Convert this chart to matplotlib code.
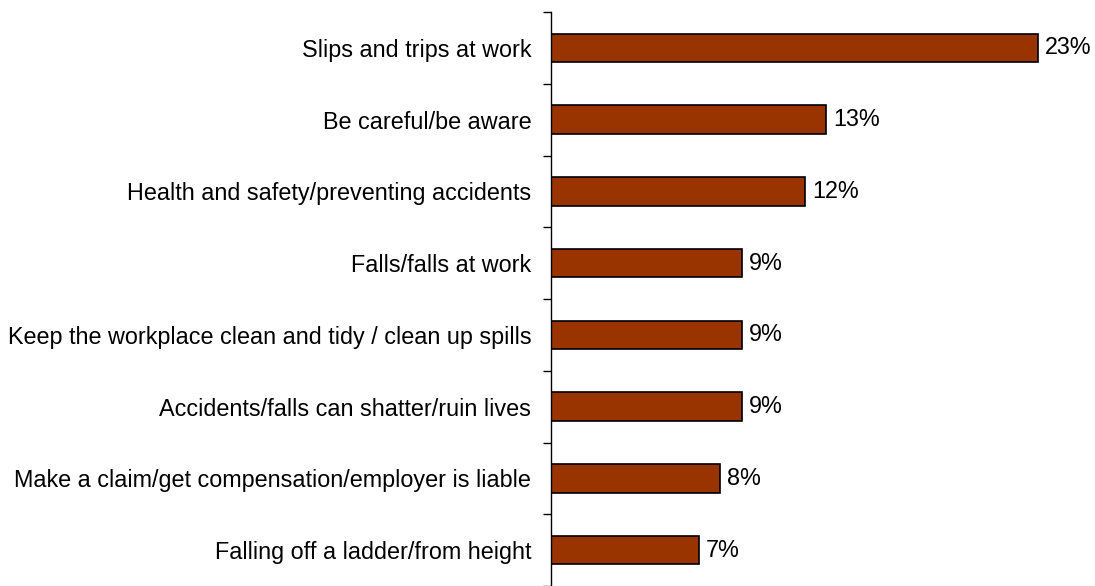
import matplotlib
matplotlib.use("Agg")
import matplotlib.pyplot as plt
import numpy as np

categories = [
    "Slips and trips at work",
    "Be careful/be aware",
    "Health and safety/preventing accidents",
    "Falls/falls at work",
    "Keep the workplace clean and tidy / clean up spills",
    "Accidents/falls can shatter/ruin lives",
    "Make a claim/get compensation/employer is liable",
    "Falling off a ladder/from height",
]
values = [23, 13, 12, 9, 9, 9, 8, 7]
value_labels = ["23%", "13%", "12%", "9%", "9%", "9%", "8%", "7%"]

plt.rcParams['font.family'] = ['Liberation Sans', 'DejaVu Sans']
FS = 16.8

fig = plt.figure(figsize=(10.95, 5.86), dpi=100)
ax = fig.add_axes([550.7/1095, 0.0, 530/1095, (586-12)/586])

pos = np.arange(len(categories))
ax.barh(pos, values, height=0.4, color="#993300", edgecolor="black", linewidth=1.2)
for p, v, lab in zip(pos, values, value_labels):
    ax.annotate(lab, (v, p), xytext=(5, 0), textcoords="offset points",
                va="center", ha="left", fontsize=FS)

ax.set_xlim(0, 25)
ax.set_ylim(len(categories) - 0.5, -0.5)

ax.set_yticks(np.arange(len(categories) + 1) - 0.5)
ax.set_yticklabels([])
ax.tick_params(axis="y", which="major", length=6, width=1, direction="out")
ax.set_yticks(pos, minor=True)
ax.set_yticklabels(categories, minor=True, fontsize=FS)
ax.tick_params(axis="y", which="minor", length=0, pad=14)

ax.set_xticks([])
for s in ["top", "right", "bottom"]:
    ax.spines[s].set_visible(False)
ax.spines["left"].set_linewidth(1)

fig.savefig("out.png", dpi=100)
